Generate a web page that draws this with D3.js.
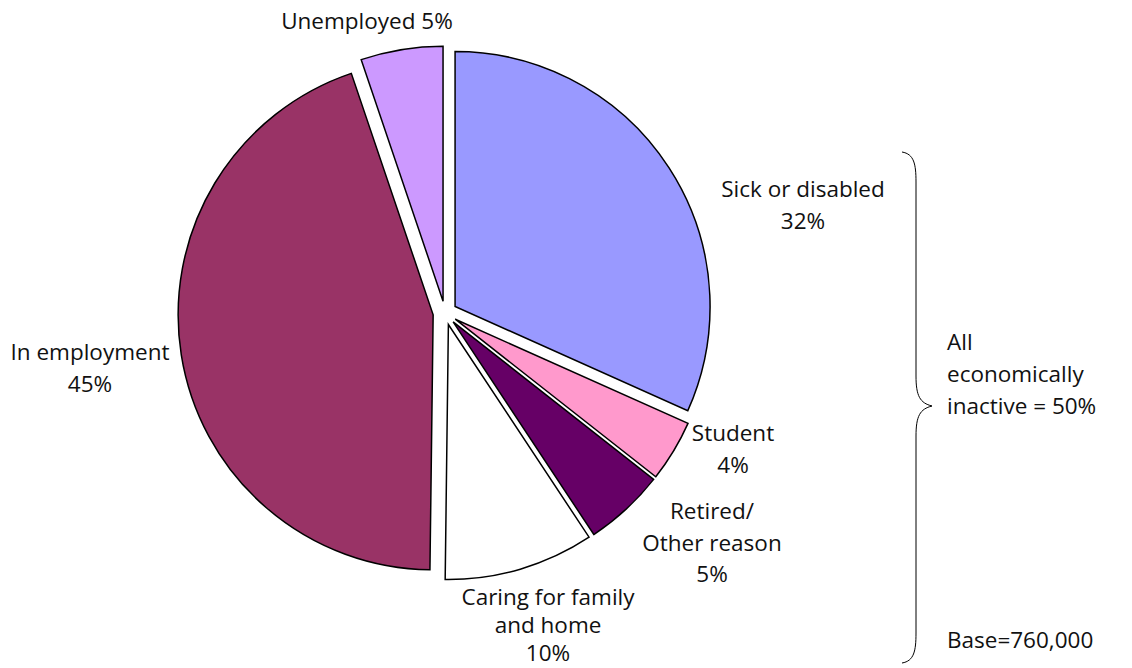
<!DOCTYPE html>
<html>
<head>
<meta charset="utf-8">
<script src="https://cdn.jsdelivr.net/npm/d3@7"></script>
<style>
  body { margin: 0; background: #fff; }
  svg { display: block; }
  text { font-family: "Open Sans", "Noto Sans", sans-serif; font-size: 22.5px; fill: #111; }
</style>
</head>
<body>
<svg id="chart" width="1132" height="668"></svg>
<script>
// shares (clockwise from 12 o'clock)
const categories = ['Sick or disabled', 'Student', 'Retired/Other reason', 'Caring for family and home', 'In employment', 'Unemployed'];
const shares = [31.7, 3.9, 5.1, 9.5, 44.6, 5.2];
const shareLabels = ['32%', '4%', '5%', '10%', '45%', '5%'];
const colors = ['#9999ff', '#ff99cc', '#660066', '#ffffff', '#993366', '#cc99ff'];

const width = 1132;
const height = 668;
const cx = 445;
const cy = 313;
const radius = 255;
const explode = 12;

const svg = d3.select('#chart');

const pie = d3.pie().sort(null).value((d) => d.value);
const arc = d3.arc().innerRadius(0).outerRadius(radius);

const data = categories.map((c, i) => ({ name: c, value: shares[i], color: colors[i] }));
const arcs = pie(data);

const g = svg.append('g').attr('transform', `translate(${cx},${cy})`);

g.selectAll('path')
  .data(arcs)
  .join('path')
  .attr('d', arc)
  .attr('transform', (d) => {
    const a = (d.startAngle + d.endAngle) / 2;
    return `translate(${Math.sin(a) * explode},${-Math.cos(a) * explode})`;
  })
  .attr('fill', (d) => d.data.color)
  .attr('stroke', '#000')
  .attr('stroke-width', 1.5)
  .attr('stroke-linejoin', 'miter');

// label lines, placed by hand like the original
const labelLayout = [
  { x: 803, y: 197, dy: 32, lines: ['Sick or disabled', shareLabels[0]] },
  { x: 733, y: 441, dy: 32, lines: ['Student', shareLabels[1]] },
  { x: 712, y: 519, dy: 31.5, lines: ['Retired/', 'Other reason', shareLabels[2]] },
  { x: 548, y: 605, dy: 28, lines: ['Caring for family', 'and home', shareLabels[3]] },
  { x: 90, y: 360, dy: 32, lines: ['In employment', shareLabels[4]] },
  { x: 367, y: 29, dy: 32, lines: ['Unemployed ' + shareLabels[5]] }
];

labelLayout.forEach((l) => {
  const t = svg.append('text').attr('text-anchor', 'middle');
  l.lines.forEach((s, i) => {
    t.append('tspan').attr('x', l.x).attr('y', l.y + i * l.dy).text(s);
  });
});

// brace for the economically inactive group
const bx = 916, braceTop = 152, braceBottom = 663, braceMid = 406;
svg.append('path')
  .attr('d', `M${bx - 14},${braceTop} C${bx - 2},${braceTop + 2} ${bx},${braceTop + 12} ${bx},${braceTop + 30}
    L${bx},${braceMid - 30} C${bx},${braceMid - 10} ${bx + 4},${braceMid - 3} ${bx + 16},${braceMid}
    C${bx + 4},${braceMid + 3} ${bx},${braceMid + 10} ${bx},${braceMid + 30}
    L${bx},${braceBottom - 30} C${bx},${braceBottom - 12} ${bx - 2},${braceBottom - 2} ${bx - 14},${braceBottom}`)
  .attr('fill', 'none')
  .attr('stroke', '#000')
  .attr('stroke-width', 1);

const side = svg.append('text');
['All', 'economically', 'inactive = 50%'].forEach((s, i) => {
  side.append('tspan').attr('x', 947).attr('y', 350 + i * 32).text(s);
});
svg.append('text').attr('x', 947).attr('y', 648).text('Base=760,000');
</script>
</body>
</html>
